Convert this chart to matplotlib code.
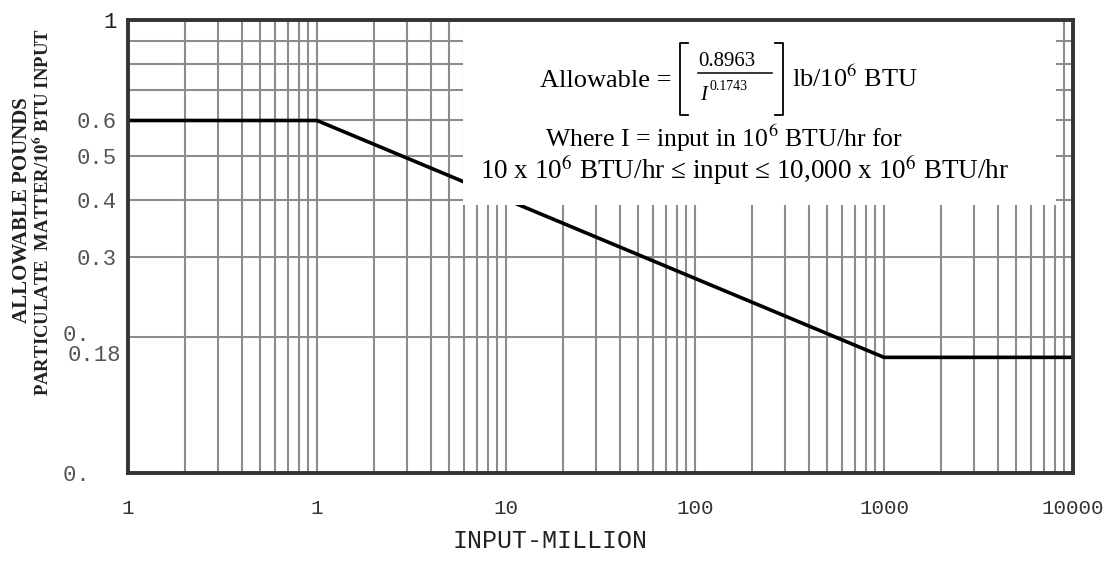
import matplotlib
matplotlib.use("Agg")
import matplotlib.pyplot as plt
from matplotlib.patches import Rectangle
from matplotlib.lines import Line2D
import matplotlib.transforms as mtrans

# ---- data ----
input_million = [0.1, 1.0, 1000, 10000]
allowable_lb = [0.6, 0.6, 0.18, 0.18]

x_ticks = [0.1, 1, 10, 100, 1000, 10000]
x_tick_labels = ["1", "1", "10", "100", "1000", "10000"]
y_ticks = [0.1, 0.18, 0.2, 0.3, 0.4, 0.5, 0.6, 1.0]
y_tick_labels = ["0.  ", "0.18", "0.  ", "0.3", "0.4", "0.5", "0.6", "1"]

plt.rcParams['mathtext.fontset'] = 'stix'

W, H = 1110, 562
fig = plt.figure(figsize=(W / 100, H / 100), dpi=100)


def P(x, y):
    return (x / W, 1 - y / H)


L, R, T, B = 128, 1073, 20, 473
ax = fig.add_axes([L / W, 1 - B / H, (R - L) / W, (B - T) / H])
ax.set_xscale("log")
ax.set_yscale("log")
ax.set_xlim(0.1, 10000)
ax.set_ylim(0.1, 1.0)

grid_c = "#8c8c8c"
vx = []
for dec in [0.1, 1, 10, 100, 1000]:
    for m in range(1, 10):
        vx.append(dec * m)
for x in vx[1:]:
    ax.axvline(x, color=grid_c, lw=1.5, zorder=1)
for y in [0.2, 0.3, 0.4, 0.5, 0.6, 0.7, 0.8, 0.9]:
    ax.axhline(y, color=grid_c, lw=1.5, zorder=1)

ax.plot(input_million, allowable_lb, color="black", lw=2.6, zorder=3,
        solid_joinstyle="miter")

# white formula box
ax.add_patch(Rectangle((0.3545, 0.592), 0.627, 0.404, transform=ax.transAxes,
                       facecolor="white", edgecolor="none", zorder=4))

mono = "Liberation Mono"
ax.set_xticks(x_ticks)
ax.set_xticks([], minor=True)
ax.set_xticklabels(x_tick_labels, fontfamily=mono, fontsize=15, color="#333333")
ax.set_yticks(y_ticks)
ax.set_yticks([], minor=True)
ax.set_yticklabels(y_tick_labels, fontfamily=mono, fontsize=16, color="#555555")
ax.tick_params(axis="both", which="both", length=0)
ax.tick_params(axis="x", pad=19)
ax.tick_params(axis="y", pad=8)
for t, lab in zip(y_ticks, ax.get_yticklabels()):
    dy = 0
    if t == 0.2:
        dy = 4
    elif t == 0.18:
        dy = 4
        lab.set_transform(lab.get_transform() +
                          mtrans.ScaledTranslation(4 / 100, 0, fig.dpi_scale_trans))
    elif t == 1.0:
        lab.set_color("#222222")
    if dy:
        lab.set_transform(lab.get_transform() +
                          mtrans.ScaledTranslation(0, dy / 100, fig.dpi_scale_trans))

for s in ax.spines.values():
    s.set_linewidth(2.8)
    s.set_color("#333333")
    s.set_zorder(6)

fig.text(*P(550, 541), "INPUT-MILLION", ha="center", va="center",
         fontfamily=mono, fontsize=18, color="#222222")

serif = "Liberation Serif"
fig.text(*P(22, 210), "ALLOWABLE POUNDS", rotation=90, ha="center",
         va="center", fontfamily=serif, fontweight="bold", fontsize=15,
         color="#222222")
fig.text(*P(43, 212), "PARTICULATE  MATTER/10$^{\\mathbf{6}}$ BTU INPUT",
         rotation=90, ha="center", va="center", fontfamily=serif,
         fontweight="bold", fontsize=13.5, color="#222222")

# formula
fig.text(*P(540, 87), "Allowable =", ha="left", va="baseline",
         fontfamily=serif, fontsize=19, zorder=7)
fig.text(*P(727, 61), "0.8963", ha="center", va="center",
         fontfamily=serif, fontsize=15, zorder=7)
fig.add_artist(Line2D([698 / W, 772 / W], [1 - 73 / H, 1 - 73 / H],
                      color="black", lw=1.1, transform=fig.transFigure))
fig.text(*P(700, 96), "I", ha="left", va="center", fontfamily=serif,
         fontstyle="italic", fontsize=15, zorder=7)
fig.text(*P(710, 86), "0.1743", ha="left", va="center", fontfamily=serif,
         fontsize=10, zorder=7)
for bx, sgn in [(680, 1), (783, -1)]:
    xs = [(bx + 8 * sgn) / W, bx / W, bx / W, (bx + 8 * sgn) / W]
    ys = [1 - 43 / H, 1 - 43 / H, 1 - 115 / H, 1 - 115 / H]
    fig.add_artist(Line2D(xs, ys, color="black", lw=1.3,
                          transform=fig.transFigure))
fig.text(*P(792, 87), "lb/10$^{6}$ BTU", ha="left", va="baseline",
         fontfamily=serif, fontsize=19, zorder=7)

fig.text(*P(545, 138), "Where I = input in 10$^{6}$ BTU/hr for",
         ha="left", va="center", fontfamily=serif, fontsize=18.5, zorder=7)
fig.text(*P(480, 170),
         "10 x 10$^{6}$ BTU/hr \u2264 input \u2264 10,000 x 10$^{6}$ BTU/hr",
         ha="left", va="center", fontfamily=serif, fontsize=19.5, zorder=7)

fig.savefig("out.png", dpi=100, facecolor="white")
